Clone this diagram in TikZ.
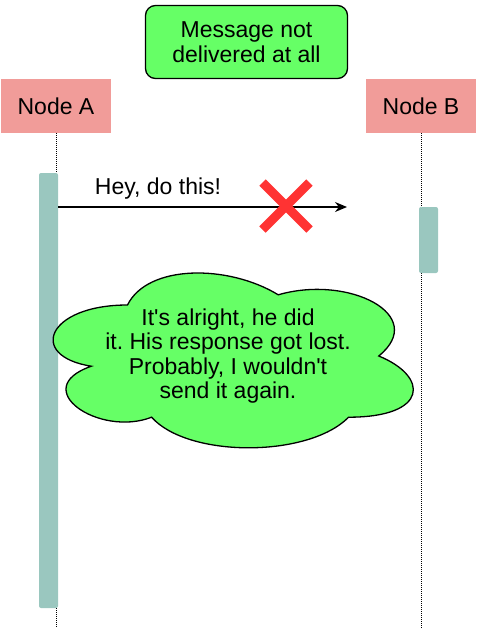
\documentclass[tikz,border=0pt]{standalone}
\usepackage{fontspec}
\setmainfont{Liberation Sans}
\usetikzlibrary{positioning,arrows.meta,shapes.misc}
\frenchspacing

\definecolor{notegreen}{HTML}{66FF66}
\definecolor{headpink}{HTML}{F19C99}
\definecolor{actteal}{HTML}{9AC7BF}
\definecolor{crossred}{HTML}{FF3333}

\begin{document}
\begin{tikzpicture}[
  x=1pt, y=-1pt,
  lbl/.style={font=\fontsize{23}{25}\selectfont, inner sep=1pt, align=center},
  headbox/.style={rectangle, fill=headpink, minimum width=110pt, minimum height=54pt, font=\fontsize{23}{25}\selectfont},
  notebox/.style={rectangle, rounded corners=10pt, draw=black, line width=1.3pt, fill=notegreen, minimum width=202pt, minimum height=73pt, inner sep=0pt, align=center, font=\fontsize{23}{25.5}\selectfont},
  actbar/.style={rectangle, rounded corners=2pt, fill=actteal, minimum width=19pt, inner sep=0pt},
  lifeline/.style={draw=black, line width=1pt, dash pattern=on 1pt off 1pt},
  msgarrow/.style={draw=black, line width=1.3pt, -{Stealth[length=12pt, width=10pt]}},
  crossmark/.style={cross out, draw=crossred, line width=9pt, minimum size=38pt, inner sep=0pt},
  cloudline/.style={draw=black, line width=1.3pt, fill=notegreen}
]
\useasboundingbox (0,0) rectangle (478,633);

\node[notebox] (msg) at (246.5, 42) {Message not\\delivered at all};
\node[headbox] (nodeA) at (56, 106) {Node A};
\node[headbox] (nodeB) at (421, 106) {Node B};
\coordinate (endA) at (56, 628);
\coordinate (endB) at (421, 628);
\node[actbar, minimum height=435pt] (actA) at (48.5, 390.5) {};
\draw[lifeline] (nodeB.south) -- (endB);
\node[actbar, minimum height=66pt] (actB) at (428.5, 240) {};
\draw[lifeline] (nodeA.south) -- (nodeA.south |- actA.north);
\draw[lifeline] (nodeA.south |- actA.south) -- (endA);

\coordinate (lost) at (347, 207);
\draw[msgarrow] (lost -| actA.east) -- (lost);
\node[lbl] (msgtxt) at (158, 189) {Hey, do this!};
\node[crossmark] (cross) at (286, 206) {};

\begin{scope}[shift={(27,254)}, x=402pt, y=-204pt]
\draw[cloudline] (0.25,0.25) .. controls (0.05,0.25) and (0,0.5) .. (0.16,0.55)
  .. controls (0,0.66) and (0.18,0.9) .. (0.31,0.8)
  .. controls (0.4,1) and (0.7,1) .. (0.8,0.8)
  .. controls (1,0.8) and (1,0.6) .. (0.875,0.5)
  .. controls (1,0.3) and (0.8,0.1) .. (0.625,0.2)
  .. controls (0.5,0.05) and (0.3,0.05) .. (0.25,0.25) -- cycle;
\node[lbl, font=\fontsize{23}{24.5}\selectfont] (cloud) at (0.5,0.5) {It\textquotesingle s alright, he did\\it. His response got lost.\\Probably, I wouldn\textquotesingle t\\send it again.};
\end{scope}

\end{tikzpicture}
\end{document}
